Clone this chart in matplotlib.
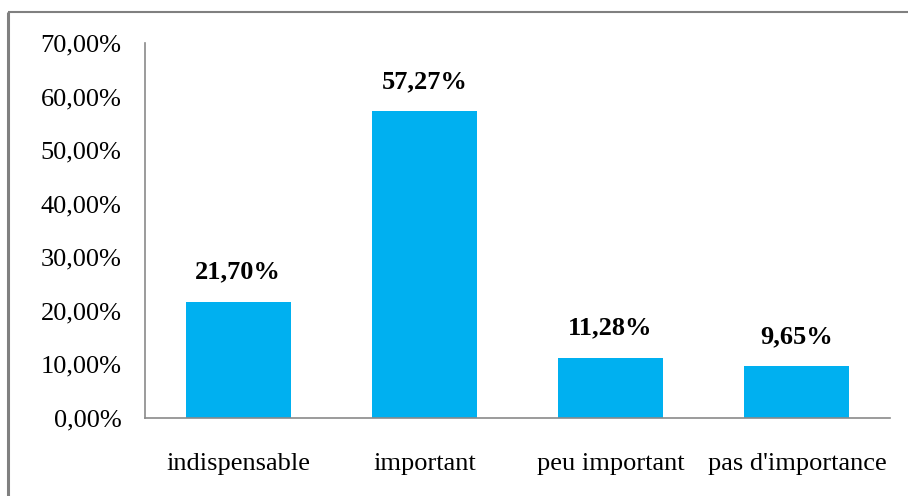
import matplotlib
matplotlib.use("Agg")
import matplotlib.pyplot as plt
from matplotlib.lines import Line2D
from matplotlib.ticker import FuncFormatter

categories = ["indispensable", "important", "peu important", "pas d'importance"]
values = [21.70, 57.27, 11.28, 9.65]
value_labels = ["21,70%", "57,27%", "11,28%", "9,65%"]
y_ticks = [0, 10, 20, 30, 40, 50, 60, 70]

W, H = 908, 496
fig = plt.figure(figsize=(W / 100, H / 100), dpi=100)
fig.patch.set_facecolor("white")

serif = ["Liberation Serif", "DejaVu Serif"]

ax = fig.add_axes([145 / W, 1 - 418 / H, (890 - 145) / W, (418 - 43) / H])
x = range(len(categories))
bars = ax.bar(x, values, width=0.565, color="#00B0F0", zorder=2)

ax.set_xlim(-0.5, len(categories) - 0.5)
ax.set_ylim(0, 70)
ax.set_yticks(y_ticks)
ax.yaxis.set_major_formatter(FuncFormatter(lambda v, _: f"{v:.2f}".replace(".", ",") + "%"))
ax.set_xticks(list(x))
ax.set_xticklabels(categories)

for lbl in ax.get_yticklabels() + ax.get_xticklabels():
    lbl.set_fontfamily(serif)
    lbl.set_fontsize(19)
    lbl.set_color("black")

ax.tick_params(axis="y", length=0, pad=17)
ax.tick_params(axis="x", length=0, pad=25)

for side in ("top", "right"):
    ax.spines[side].set_visible(False)
for side in ("left", "bottom"):
    ax.spines[side].set_color("#8a8a8a")
    ax.spines[side].set_linewidth(1.2)

for xi, v, txt in zip(x, values, value_labels):
    ax.annotate(txt, (xi, v), xytext=(0, 13), textcoords="offset points",
                ha="center", va="bottom", fontsize=19, fontweight="bold",
                family=serif, color="black")

# frame lines at the top and left of the figure
fig.add_artist(Line2D([8 / W, 1], [1 - 12 / H, 1 - 12 / H], transform=fig.transFigure,
                      color="#808080", linewidth=1.5, solid_capstyle="butt"))
fig.add_artist(Line2D([8 / W, 8 / W], [0, 1 - 12 / H], transform=fig.transFigure,
                      color="#808080", linewidth=2.2, solid_capstyle="butt"))

fig.savefig("out.png", dpi=100, facecolor="white")
